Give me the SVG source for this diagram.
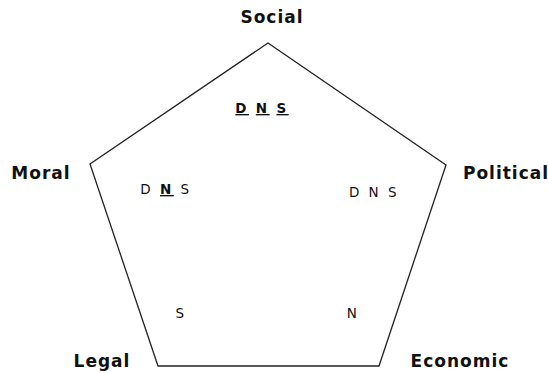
<svg xmlns="http://www.w3.org/2000/svg" width="548" height="373" viewBox="0 0 548 373">
<style>
.lbl{font-family:"DejaVu Sans",Verdana,sans-serif;font-weight:bold;font-size:17px;letter-spacing:1px;fill:#111}
.t{font-family:"DejaVu Sans",Verdana,sans-serif;font-size:13.5px;letter-spacing:2.5px;fill:#111}
.b{font-weight:bold;text-decoration:underline}
</style>
<rect width="548" height="373" fill="#fff"/>
<g id="connectors">
<polygon points="268,43 446,165 379,366 158,366 90,164" fill="none" stroke="#222" stroke-width="1.3"/>
</g>
<g id="social"><text class="lbl" x="272" y="23" text-anchor="middle">Social</text></g>
<g id="moral"><text class="lbl" x="41" y="179" text-anchor="middle">Moral</text></g>
<g id="political"><text class="lbl" x="506" y="179" text-anchor="middle">Political</text></g>
<g id="legal"><text class="lbl" x="102" y="367" text-anchor="middle">Legal</text></g>
<g id="economic"><text class="lbl" x="460" y="367" text-anchor="middle">Economic</text></g>
<g id="c1"><text class="t" x="262" y="113" text-anchor="middle"><tspan class="b">D</tspan> <tspan class="b">N</tspan> <tspan class="b">S</tspan></text></g>
<g id="c2"><text class="t" x="166" y="194" text-anchor="middle">D <tspan class="b">N</tspan> S</text></g>
<g id="c3"><text class="t" x="374" y="197" text-anchor="middle">D N S</text></g>
<g id="c4"><text class="t" x="181" y="318" text-anchor="middle">S</text></g>
<g id="c5"><text class="t" x="353" y="318" text-anchor="middle">N</text></g>
</svg>
